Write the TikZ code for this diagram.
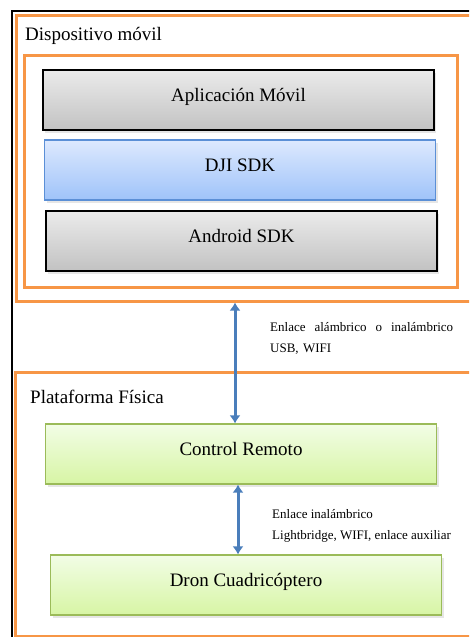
\documentclass[tikz,border=0pt]{standalone}
\usepackage{fontspec}
\setmainfont{Liberation Serif}
\usetikzlibrary{arrows.meta,shadows}
\definecolor{naranja}{HTML}{F79646}
\definecolor{grisA}{HTML}{EBEBEB}
\definecolor{grisB}{HTML}{C2C2C2}
\definecolor{azulA}{HTML}{DDE9FE}
\definecolor{azulB}{HTML}{9FC3F9}
\definecolor{azulborde}{HTML}{5B8FD6}
\definecolor{verdeA}{HTML}{F2FDE6}
\definecolor{verdeB}{HTML}{D7F5A4}
\definecolor{verdeborde}{HTML}{9BBB59}
\definecolor{flecha}{HTML}{4A7EBB}
\begin{document}
\begin{tikzpicture}[x=1pt,y=-1pt,
  marco/.style={rectangle, draw=naranja, line width=3pt, inner sep=0pt},
  capa/.style={rectangle, minimum width=391pt, minimum height=60pt,
    text height=12pt, text depth=9pt, font=\fontsize{19}{22}\selectfont,
    drop shadow={shadow xshift=2pt, shadow yshift=-3pt, opacity=.2}},
  gris/.style={capa, draw=black, line width=1.3pt, top color=grisA, bottom color=grisB},
  azul/.style={capa, draw=azulborde, line width=1.1pt, top color=azulA, bottom color=azulB},
  verde/.style={capa, draw=verdeborde, line width=1.1pt, top color=verdeA, bottom color=verdeB},
  titulo/.style={anchor=base west, inner sep=0pt, font=\fontsize{19}{22}\selectfont},
  nota/.style={anchor=north west, inner sep=0pt, align=left, font=\fontsize{13}{21.5}\selectfont},
  enlace/.style={{Latex[length=8pt,width=11pt]}-{Latex[length=8pt,width=11pt]}, line width=3pt, draw=flecha}]
\clip (0,0) rectangle (469,637);
% marco exterior
\draw[line width=1.5pt] (12,11) rectangle (500,660);
% dispositivo movil
\node[marco, minimum width=470pt, minimum height=286pt] (movil) at (251,158){};
\node[titulo] (tmovil) at (25,40){Dispositivo móvil};
\node[marco, minimum width=433pt, minimum height=232pt] (capas) at (240.5,171){};
\node[gris] (app) at (238.5,100){Aplicación Móvil};
\node[azul] (dji) at (240,170){DJI SDK};
\node[gris] (android) at (241.5,241){Android SDK};
% plataforma fisica
\node[marco, minimum width=470pt, minimum height=264pt] (plataforma) at (250,504){};
\node[titulo] (tplataforma) at (30,403){Plataforma Física};
\node[verde] (control) at (241,454){Control Remoto};
\node[verde] (dron) at (246,585){Dron Cuadricóptero};
% enlaces
\draw[enlace] ([xshift=-6pt]control.north |- movil.south) -- ([xshift=-6pt]control.north);
\node[nota, text width=183pt] (nota1) at (270,322){Enlace\hfill alámbrico\hfill o\hfill inalámbrico\\USB, WIFI};
\draw[enlace] ([xshift=-3pt]control.south) -- ([xshift=-3pt]control.south |- dron.north);
\node[nota] (nota2) at (272,509){Enlace inalámbrico\\Lightbridge, WIFI, enlace auxiliar};
\end{tikzpicture}
\end{document}
